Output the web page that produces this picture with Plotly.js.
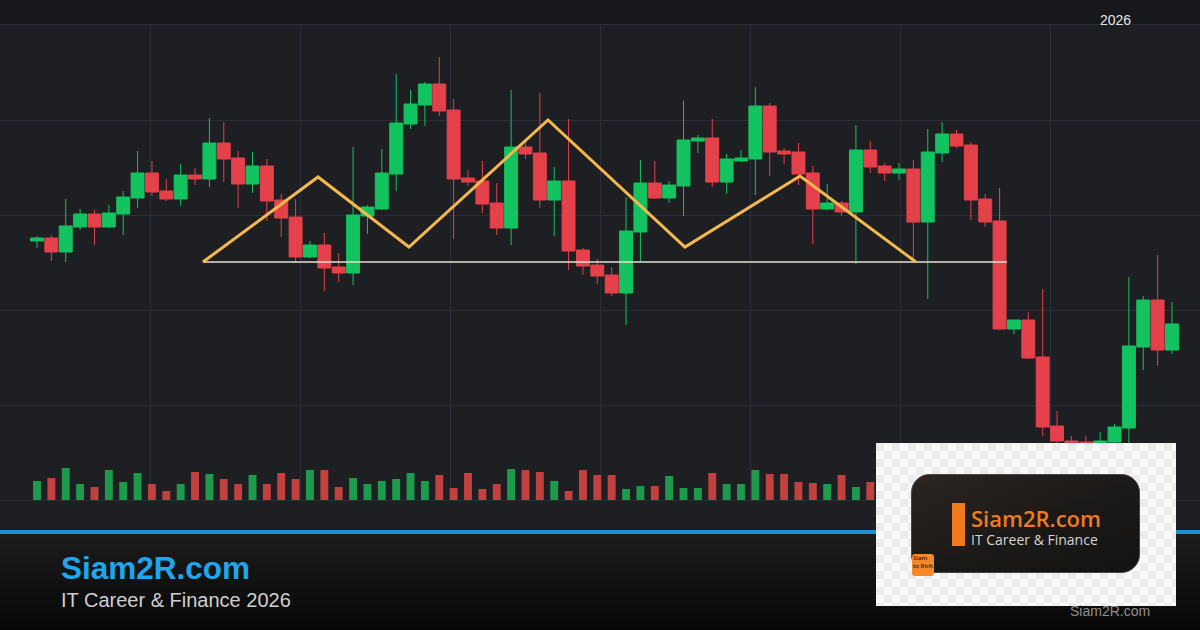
<!DOCTYPE html>
<html><head><meta charset="utf-8">
<script src="https://cdn.plot.ly/plotly-3.0.1.min.js"></script>
<style>html,body{margin:0;padding:0;background:#1e1f22;}#chart{width:1200px;height:630px;}</style>
</head><body><div id="chart"></div>
<script>
// ---- data ----
const openP  = [151.8,152.4,149.6,154.6,157.2,154.6,157.2,160.4,165.4,161.8,
                160.2,165.0,164.2,171.4,168.4,163.2,166.8,160.0,156.6,148.6,
                151.0,146.6,145.4,156.8,158.2,165.2,175.2,179.0,183.2,178.0,
                164.4,163.8,159.4,154.4,170.6,169.4,160.0,163.8,150.0,147.0,
                145.0,141.4,153.6,163.4,160.4,162.8,171.8,172.4,163.6,167.8,
                168.2,178.8,169.8,169.6,165.4,158.2,159.4,157.6,170.0,166.8,
                165.4,166.2,155.6,169.4,173.2,171.0,160.2,155.8,134.2,136.0,
                128.6,114.8,111.8,111.6,111.4,111.6,114.4,130.6,140.0,130.0];
const highP  = [152.8,153.0,160.2,158.2,158.0,159.0,161.8,169.8,167.8,164.2,
                167.2,166.4,176.4,175.6,169.8,169.6,168.2,161.2,160.2,151.8,
                153.4,149.4,170.6,159.0,170.2,185.2,182.0,183.6,188.6,180.2,
                166.0,167.8,163.4,182.0,172.0,181.4,166.6,176.2,150.4,148.2,
                146.6,160.6,168.0,167.8,163.8,179.8,173.0,176.2,169.2,170.0,
                182.6,179.4,170.4,171.4,166.8,163.2,159.8,175.0,171.8,167.4,
                167.4,168.0,174.2,175.6,174.0,171.6,161.2,162.4,136.0,137.6,
                142.2,117.8,112.8,112.8,113.6,115.2,144.6,140.8,149.0,139.6];
const lowP   = [150.4,147.8,147.6,154.0,151.0,154.4,153.0,158.4,160.8,159.8,
                158.8,163.0,162.6,163.6,158.4,161.4,155.8,152.6,147.4,148.4,
                141.8,143.6,143.0,153.2,158.0,161.8,174.2,174.8,176.8,152.2,
                162.8,157.4,153.0,151.0,168.2,158.4,152.8,146.0,145.0,143.2,
                140.8,135.0,147.6,160.2,159.4,156.8,169.4,162.6,161.2,167.6,
                161.0,164.8,167.2,163.0,151.2,158.0,156.8,147.2,165.4,163.8,
                164.0,147.6,140.2,167.6,170.4,156.0,154.6,134.0,133.2,128.2,
                112.8,110.4,110.6,110.6,110.6,110.6,110.0,126.0,126.8,129.2];
const closeP = [152.4,149.6,154.8,157.2,154.6,157.4,160.6,165.4,161.6,160.2,
                165.0,164.2,171.4,168.2,163.2,166.8,159.8,156.4,148.6,151.0,
                146.4,145.4,157.0,158.6,165.4,175.4,179.2,183.2,177.8,164.2,
                163.6,159.2,154.4,170.6,169.2,160.0,163.8,149.8,146.8,144.8,
                141.4,153.8,163.4,160.4,163.0,172.0,172.4,163.6,168.2,168.4,
                178.8,169.6,169.2,165.2,158.2,159.4,157.6,170.0,166.6,165.4,
                166.2,155.6,169.6,173.2,170.8,160.0,155.6,134.2,136.0,128.4,
                114.6,111.8,111.4,111.2,111.8,114.6,130.8,140.0,130.0,135.2];
// volume in millions; bars hidden behind the logo box are left empty
const volume = [1.9,2.2,3.2,1.6,1.3,3.0,1.8,2.7,1.6,0.9,
                1.6,2.8,2.6,2.1,1.6,2.5,1.6,2.7,2.1,3.0,
                3.0,1.3,2.2,1.6,1.9,2.1,2.7,1.9,2.5,1.2,
                2.7,1.1,1.6,3.1,3.0,2.8,1.9,0.9,3.0,2.5,
                2.5,1.1,1.4,1.4,2.4,1.2,1.2,2.7,1.6,1.6,
                3.0,2.6,2.6,1.8,1.7,1.6,2.5,1.3,1.8,null,
                null,null,null,null,null,null,null,null,null,null,
                null,null,null,null,null,null,null,null,null,2.5];
// triple-top pattern drawn over the chart (x in bar index, y in price)
const patternX = [11.55,19.56,25.89,35.57,45.10,53.11,61.18];
const patternY = [147.6,164.6,150.6,176.0,150.6,164.8,147.6];
const necklineX = [11.55,67.52];
const necklineY = [147.6,147.6];
const yearLabel = "2026";
const brandName = "Siam2R.com";
const brandSub = "IT Career & Finance 2026";
const logoSub = "IT Career & Finance";
const badgeText = "Siam<br>to Rich";

// ---- build ----
const idx = openP.map((_, i) => i);
const UP = '#12c35f', DN = '#e5414b';
const volColors = openP.map((o, i) => closeP[i] >= o ? '#1e9a4c' : '#c2403f');

const W = 1200, T = 25, B = 500;
const px = X => X / W;
const py = Y => (B - Y) / (B - T);

const enc = s => 'data:image/svg+xml;charset=utf-8,' + encodeURIComponent(s);
const logoSvg = `<svg xmlns="http://www.w3.org/2000/svg" width="300" height="163" viewBox="0 0 300 163">
<defs>
<pattern id="p" width="16" height="16" patternUnits="userSpaceOnUse">
<rect width="16" height="16" fill="#f8f8f8"/><rect width="8" height="8" fill="#ececec"/><rect x="8" y="8" width="8" height="8" fill="#ececec"/>
</pattern>
<linearGradient id="g" x1="0" y1="0" x2="1" y2="1">
<stop offset="0" stop-color="#2c2520"/><stop offset="0.55" stop-color="#1b1918"/><stop offset="1" stop-color="#131313"/>
</linearGradient>
</defs>
<rect width="300" height="163" fill="url(#p)"/>
<rect x="35.5" y="31.5" width="228" height="98" rx="18" ry="18" fill="url(#g)" stroke="#454545" stroke-width="1"/>
<rect x="76" y="60" width="13" height="43" fill="#f07b1f"/>
<rect x="36" y="111" width="22" height="22" rx="3" ry="3" fill="#f5892a"/>
</svg>`;
const footSvg = `<svg xmlns="http://www.w3.org/2000/svg" width="1200" height="96" viewBox="0 0 1200 96" preserveAspectRatio="none">
<defs><linearGradient id="f" x1="0" y1="0" x2="0" y2="1"><stop offset="0" stop-color="#1c1c1c"/><stop offset="1" stop-color="#070707"/></linearGradient></defs>
<rect width="1200" height="96" fill="url(#f)"/></svg>`;

const traces = [
  { type: 'bar', x: idx, y: volume, xaxis: 'x', yaxis: 'y2', width: 0.55,
    marker: { color: volColors, line: { width: 0 } }, hoverinfo: 'skip', showlegend: false },
  { type: 'candlestick', x: idx, open: openP, high: highP, low: lowP, close: closeP,
    increasing: { line: { color: UP, width: 1 }, fillcolor: UP },
    decreasing: { line: { color: DN, width: 1 }, fillcolor: DN },
    whiskerwidth: 0, hoverinfo: 'skip', showlegend: false },
  { type: 'scatter', mode: 'lines', x: necklineX, y: necklineY,
    line: { color: '#e9e0cf', width: 1.5 }, hoverinfo: 'skip', showlegend: false },
  { type: 'scatter', mode: 'lines', x: patternX, y: patternY,
    line: { color: '#f6b84c', width: 3 }, hoverinfo: 'skip', showlegend: false }
];

const grid = '#2a2e38';
const layout = {
  width: 1200, height: 630,
  margin: { l: 0, r: 0, t: T, b: 630 - B },
  paper_bgcolor: '#1e1f22', plot_bgcolor: '#1e1f22',
  boxgap: 0.1, boxgroupgap: 0,
  showlegend: false,
  xaxis: { range: [-37 / 14.367, (1200 - 37) / 14.367], showticklabels: false, ticks: '',
           showgrid: true, gridcolor: grid, gridwidth: 1, tick0: 113 / 14.367, dtick: 150 / 14.367,
           zeroline: false, showline: true, mirror: true, linecolor: grid, linewidth: 1,
           rangeslider: { visible: false }, fixedrange: true },
  yaxis: { range: [100, 195], showticklabels: false, ticks: '', showgrid: true, gridcolor: grid,
           tick0: 100, dtick: 19, zeroline: false, fixedrange: true },
  yaxis2: { overlaying: 'y', range: [0, 47.5], showticklabels: false, showgrid: false,
            zeroline: false, ticks: '', fixedrange: true },
  shapes: [
    { type: 'rect', xref: 'paper', yref: 'paper', x0: 0, x1: 1, y0: py(0), y1: py(25) + 0.0005,
      fillcolor: '#17181b', line: { width: 0 }, layer: 'below' },
    { type: 'rect', xref: 'paper', yref: 'paper', x0: 0, x1: 1, y0: py(530), y1: py(534),
      fillcolor: '#1d8fd0', line: { width: 0 }, layer: 'below' }
  ],
  images: [
    { source: enc(footSvg), xref: 'paper', yref: 'paper', x: 0, y: py(534), sizex: 1, sizey: 96 / (B - T),
      xanchor: 'left', yanchor: 'top', sizing: 'stretch', layer: 'below' },
    { source: enc(logoSvg), xref: 'paper', yref: 'paper', x: px(876), y: py(443), sizex: 300 / W, sizey: 163 / (B - T),
      xanchor: 'left', yanchor: 'top', sizing: 'stretch', layer: 'above' }
  ],
  annotations: [
    { text: yearLabel, xref: 'paper', yref: 'paper', x: px(1115.5), y: py(20), showarrow: false,
      xanchor: 'center', yanchor: 'middle', font: { family: 'Liberation Sans, Arial, sans-serif', size: 14, color: '#e6e6e6' } },
    { text: '<b>' + brandName + '</b>', xref: 'paper', yref: 'paper', x: px(59), y: py(567.5), showarrow: false,
      xanchor: 'left', yanchor: 'middle', font: { family: 'Liberation Sans, Arial, sans-serif', size: 31.5, color: '#1ea7ef' } },
    { text: brandSub, xref: 'paper', yref: 'paper', x: px(59), y: py(599.5), showarrow: false,
      xanchor: 'left', yanchor: 'middle', font: { family: 'Liberation Sans, Arial, sans-serif', size: 20, color: '#cfcfcf' } },
    { text: '<span style="font-size:22px;color:#f07b1f;font-weight:600">' + brandName + '</span><br>' + logoSub,
      xref: 'paper', yref: 'paper', x: px(969), y: py(550.5), showarrow: false,
      xanchor: 'left', yanchor: 'bottom', align: 'left',
      font: { family: 'Open Sans, sans-serif', size: 14, color: '#d4d4d4' } },
    { text: badgeText, xref: 'paper', yref: 'paper', x: px(923), y: py(562), showarrow: false,
      xanchor: 'center', yanchor: 'middle', align: 'left', font: { family: 'Open Sans, sans-serif', size: 6, color: '#2a1a0a', weight: 600 } },
    { text: brandName, xref: 'paper', yref: 'paper', x: px(1110), y: py(611), showarrow: false,
      xanchor: 'center', yanchor: 'middle', font: { family: 'Liberation Sans, Arial, sans-serif', size: 14, color: '#8f8f8f' } }
  ]
};

Plotly.newPlot('chart', traces, layout, { displayModeBar: false, staticPlot: true });
</script></body></html>
